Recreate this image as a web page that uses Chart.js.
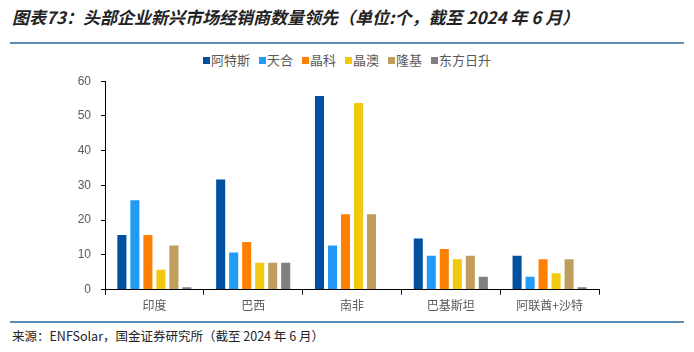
<!DOCTYPE html>
<html>
<head>
<meta charset="utf-8">
<script src="https://cdn.jsdelivr.net/npm/chart.js@4.4.1/dist/chart.umd.min.js"></script>
<style>
  body { margin: 0; width: 694px; height: 352px; background: #fff; position: relative; overflow: hidden; font-family: "Noto Sans CJK SC", "Noto Sans", sans-serif; }
  .title { position: absolute; left: 12px; top: 4px; font-size: 17px; font-weight: bold; font-style: italic; color: #222; white-space: nowrap; }
  .rule { position: absolute; left: 10px; width: 674px; height: 2px; background: #5a8cb6; }
  .legend { position: absolute; top: 50px; left: 203px; font-size: 13px; color: #595959; white-space: nowrap; }
  .legend span.item { margin-right: 9px; }
  .legend i { display: inline-block; width: 7px; height: 7px; margin-right: 1px; vertical-align: 1px; }
  .source { position: absolute; left: 12px; top: 326px; font-size: 12.5px; color: #222; white-space: nowrap; }
  #wrap { position: absolute; left: 0; top: 64px; width: 694px; height: 253px; }
</style>
</head>
<body>
<div class="title">图表73：头部企业新兴市场经销商数量领先（单位:个，截至 2024 年 6 月）</div>
<div class="rule" style="top:42px"></div>
<div class="legend" id="legend"></div>
<div id="wrap"><canvas id="chart"></canvas></div>
<div class="rule" style="top:321px"></div>
<div class="source">来源：ENFSolar，国金证券研究所（截至 2024 年 6 月）</div>
<script>
// 国家/地区
const categories = ['印度', '巴西', '南非', '巴基斯坦', '阿联酋+沙特'];
// 企业
const seriesNames = ['阿特斯', '天合', '晶科', '晶澳', '隆基', '东方日升'];
const seriesColors = ['#0050a0', '#219bf5', '#ff8000', '#f2c811', '#c09d5c', '#808080'];
// 经销商数量
const atesi   = [16, 32, 56, 15, 10];
const tianhe  = [26, 11, 13, 10, 4];
const jinko   = [16, 14, 22, 12, 9];
const jaSolar = [6, 8, 54, 9, 5];
const longi   = [13, 8, 22, 10, 9];
const risen   = [1, 8, 0, 4, 1];
const seriesValues = [atesi, tianhe, jinko, jaSolar, longi, risen];
const yTicks = [0, 10, 20, 30, 40, 50, 60];

// 图例
const legendEl = document.getElementById('legend');
seriesNames.forEach((name, i) => {
    const item = document.createElement('span');
    item.className = 'item';
    item.innerHTML = `<i style="background:${seriesColors[i]}"></i>${name}`;
    legendEl.appendChild(item);
});

const ctx = document.getElementById('chart').getContext('2d');
new Chart(ctx, {
    type: 'bar',
    data: {
        labels: categories,
        datasets: seriesNames.map((name, i) => ({
            label: name,
            data: seriesValues[i],
            backgroundColor: seriesColors[i],
            borderColor: 'rgba(255,255,255,0.6)',
            borderWidth: 1,
            barPercentage: 0.85,
            categoryPercentage: 0.79
        }))
    },
    options: {
        responsive: true,
        maintainAspectRatio: false,
        animation: false,
        layout: { padding: { left: 50, right: 95, top: 3, bottom: 0 } },
        plugins: { legend: { display: false }, tooltip: { enabled: false } },
        scales: {
            x: {
                offset: true,
                grid: { display: true, drawOnChartArea: false, offset: true, color: '#000', tickLength: 5, tickColor: '#000' },
                border: { color: '#000', width: 1 },
                ticks: { color: '#595959', font: { size: 12, family: '"Noto Sans CJK SC", sans-serif' }, padding: 4 }
            },
            y: {
                min: 0,
                max: 60,
                afterFit(scale) { scale.width = 55; },
                afterBuildTicks(scale) { scale.ticks = yTicks.map(v => ({ value: v })); },
                grid: { display: true, drawOnChartArea: false, color: '#000', tickLength: 4, tickColor: '#000' },
                border: { color: '#000', width: 1 },
                ticks: { color: '#595959', font: { size: 12, family: '"Liberation Sans", Arial, sans-serif' }, padding: 10 }
            }
        }
    }
});
</script>
</body>
</html>
